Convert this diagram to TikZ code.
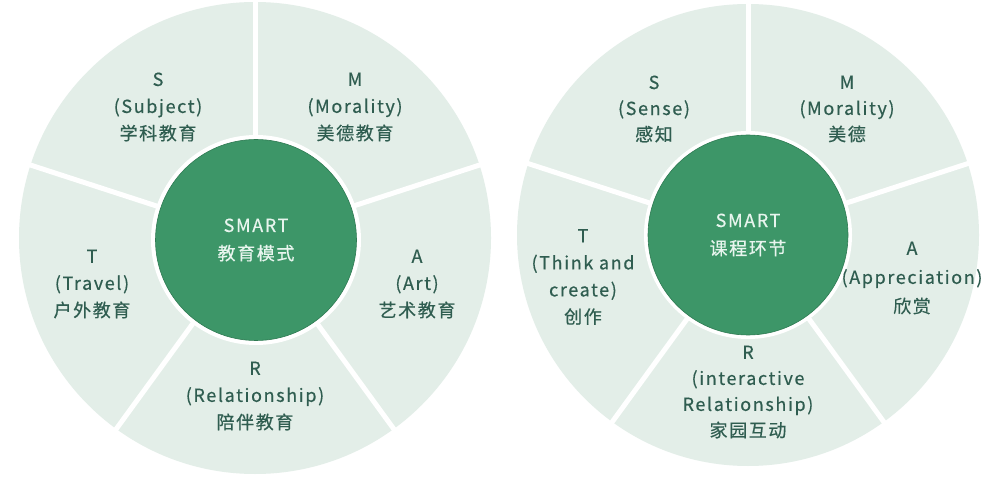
\documentclass[tikz,border=0pt]{standalone}
\usepackage{fontspec}
\setmainfont{Noto Sans CJK SC}[LetterSpace=9, FakeBold=0.5]
\definecolor{ringfill}{HTML}{E3EEE8}
\definecolor{hubfill}{HTML}{3D9668}
\definecolor{hubedge}{HTML}{2E7A52}
\definecolor{hubtext}{HTML}{E8F5EE}
\definecolor{segtext}{HTML}{2F5D50}
\tikzset{
  ringdisc/.style={fill=ringfill},
  divider/.style={draw=white, line width=5pt},
  hubhalo/.style={fill=white},
  hub/.style={circle, fill=hubfill, draw=hubedge, line width=0.6pt, minimum size=201pt, inner sep=0pt,
    text=hubtext, align=center, font=\fontsize{18}{28}\selectfont},
  seg/.style={text=segtext, align=center, inner sep=0pt, font=\fontsize{18}{27}\selectfont},
  segb/.style={seg, font=\fontsize{18}{26}\selectfont}
}
\begin{document}
\begin{tikzpicture}[x=1pt,y=1pt]
\useasboundingbox[fill=white] (0,0) rectangle (1000,482);
% ---------- left wheel ----------
\coordinate (L) at (255,244);
\coordinate (Lh) at (256,242);
\fill[ringdisc] (L) circle (236);
\foreach \a in {90,18,-54,-126,162} \draw[divider] (L) -- ++(\a:240);
\fill[hubhalo] (Lh) circle (105);
\node[hub] (Lhub) at (Lh) {SMART\\教育模式};
\node[seg] (LS) at (158,375) {S\\(Subject)\\学科教育};
\node[seg] (LM) at (355,375) {M\\(Morality)\\美德教育};
\node[seg] (LT) at (92,198) {T\\(Travel)\\户外教育};
\node[seg] (LA) at (417,198) {A\\(Art)\\艺术教育};
\node[seg] (LR) at (255,86) {R\\(Relationship)\\陪伴教育};
% ---------- right wheel ----------
\coordinate (R) at (748,247);
\fill[ringdisc] (R) circle (231);
\foreach \a in {90,18,-54,-126,162} \draw[divider] (R) -- ++(\a:235);
\fill[hubhalo] (R) circle (104);
\node[hub, minimum size=200pt] (Rhub) at (R) {SMART\\课程环节};
\node[segb] (RS) at (654,373) {S\\(Sense)\\感知};
\node[segb] (RM) at (847,373) {M\\(Morality)\\美德};
\node[seg] (RT) at (583,205) {T\\(Think and\\create)\\创作};
\node[seg, font=\fontsize{18}{29}\selectfont] (RA) at (912,204) {A\\(Appreciation)\\欣赏};
\node[segb] (RR) at (748,90) {R\\(interactive\\Relationship)\\家园互动};
\end{tikzpicture}
\end{document}
